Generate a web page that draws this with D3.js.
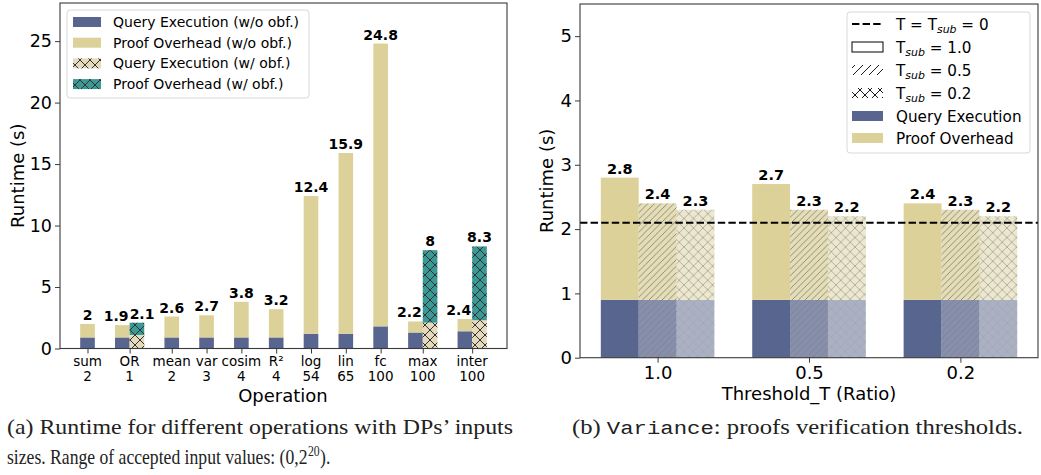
<!DOCTYPE html>
<html><head><meta charset="utf-8">
<script src="https://cdn.jsdelivr.net/npm/d3@7"></script>
<style>body{margin:0;background:#fff}svg{display:block}</style>
</head><body>
<script>
// ---------- DATA (left panel) ----------
const ops = ["sum","OR","mean","var","cosim","R²","log","lin","fc","max","inter"];
const opSizes = ["2","1","2","3","4","4","54","65","100","100","100"];
const qeNoObf = [0.9,0.9,0.9,0.9,0.9,0.9,1.2,1.2,1.8,1.3,1.4];
const totalNoObf = [2,1.9,2.6,2.7,3.8,3.2,12.4,15.9,24.8,2.2,2.4];
const qeObf = [null,1.1,null,null,null,null,null,null,null,2.1,2.3];
const totalObf = [null,2.1,null,null,null,null,null,null,null,8,8.3];
const yTicksL = [0,5,10,15,20,25];
const legendL = ["Query Execution (w/o obf.)","Proof Overhead (w/o obf.)","Query Execution (w/ obf.)","Proof Overhead (w/ obf.)"];

// ---------- DATA (right panel) ----------
const thresholds = ["1.0","0.5","0.2"];
const tsub = ["1.0","0.5","0.2"];
const qeR = [[0.9,0.9,0.9],[0.9,0.9,0.9],[0.9,0.9,0.9]];      // [threshold][tsub]
const totalR = [[2.8,2.4,2.3],[2.7,2.3,2.2],[2.4,2.3,2.2]];
const baseline = 2.1;
const yTicksR = [0,1,2,3,4,5];

const C = {navy:"#58658f", khaki:"#dcd198", beige:"#e6dabc", teal:"#3a9995", axis:"#3a3a3a"};
const FONT = "DejaVu Sans";

const svg = d3.select("body").append("svg").attr("width",1041).attr("height",475)
  .style("font-family",FONT);
svg.append("rect").attr("width",1041).attr("height",475).attr("fill","#fff");

const defs = svg.append("defs");
function crossPattern(id, bg, size, stroke, sw){
  const p = defs.append("pattern").attr("id",id).attr("patternUnits","userSpaceOnUse")
    .attr("width",size).attr("height",size);
  if(bg) p.append("rect").attr("width",size).attr("height",size).attr("fill",bg);
  p.append("path").attr("d",`M0,0L${size},${size}M0,${size}L${size},0`)
    .attr("stroke",stroke).attr("stroke-width",sw).attr("fill","none");
}
function diagPattern(id, bg, size, stroke, sw){
  const p = defs.append("pattern").attr("id",id).attr("patternUnits","userSpaceOnUse")
    .attr("width",size).attr("height",size);
  if(bg) p.append("rect").attr("width",size).attr("height",size).attr("fill",bg);
  p.append("path").attr("d",`M0,${size}L${size},0M${-size/2},${size/2}L${size/2},${-size/2}M${size/2},${size*1.5}L${size*1.5},${size/2}`)
    .attr("stroke",stroke).attr("stroke-width",sw).attr("fill","none");
}
crossPattern("xBeige", C.beige, 10, "#333", 1);
crossPattern("xTeal", C.teal, 10, "#333", 1);
diagPattern("diagR", null, 6.5, "#555", 0.9);
crossPattern("xxR", null, 9.5, "#555", 0.9);
diagPattern("diagLeg", "#fff", 8, "#000", 0.9);
crossPattern("xxLeg", "#fff", 10, "#000", 0.9);

// ================= LEFT PANEL =================
const L = {x0:60, x1:507, y0:3, y1:348.5};
const W = 0.42;
let cursor = 0;
const pos = ops.map((d,i)=>{
  const has = totalObf[i]!=null;
  const p = {a:cursor, b: has ? cursor+W : null, tick: has ? cursor+W/2 : cursor};
  cursor += 1 + (has ? W : 0);
  return p;
});
const xL = d3.scaleLinear().domain([-0.79, 12.05]).range([L.x0, L.x1]);
const yL = d3.scaleLinear().domain([0, 28.1]).range([L.y1, L.y0]);
const bwL = xL(W) - xL(0);
const gL = svg.append("g");

ops.forEach((op,i)=>{
  const p = pos[i];
  const xa = xL(p.a) - bwL/2;
  const paired = p.b!=null;
  gL.append("rect").attr("x",xa).attr("width",bwL).attr("y",yL(qeNoObf[i])).attr("height",yL(0)-yL(qeNoObf[i])).attr("fill",C.navy);
  gL.append("rect").attr("x",xa).attr("width",bwL).attr("y",yL(totalNoObf[i])).attr("height",yL(qeNoObf[i])-yL(totalNoObf[i])).attr("fill",C.khaki);
  gL.append("text")
    .attr("x", paired ? xa + bwL - 1 : xL(p.a))
    .attr("y",yL(totalNoObf[i])-4).attr("text-anchor", paired ? "end" : "middle")
    .attr("font-size",14).attr("font-weight","bold").text(String(totalNoObf[i]));
  if(paired){
    const xb = xL(p.b) - bwL/2;
    gL.append("rect").attr("x",xb).attr("width",bwL).attr("y",yL(qeObf[i])).attr("height",yL(0)-yL(qeObf[i])).attr("fill","url(#xBeige)");
    gL.append("rect").attr("x",xb).attr("width",bwL).attr("y",yL(totalObf[i])).attr("height",yL(qeObf[i])-yL(totalObf[i])).attr("fill","url(#xTeal)");
    const small = totalObf[i] < 5;
    gL.append("text").attr("x", small ? xb : xL(p.b)).attr("y",yL(totalObf[i])-4)
      .attr("text-anchor", small ? "start" : "middle")
      .attr("font-size",14).attr("font-weight","bold").text(String(totalObf[i]));
  }
});

// axes left
const axL = gL.append("g").attr("transform",`translate(${L.x0},0)`)
  .call(d3.axisLeft(yL).tickValues(yTicksL).tickFormat(d3.format("d")).tickSize(5).tickPadding(3));
axL.select(".domain").remove();
axL.selectAll("text").attr("font-size",17.5).attr("font-family",FONT).attr("fill","#000");
axL.selectAll("line").attr("stroke",C.axis);
const axLB = gL.append("g").attr("transform",`translate(0,${L.y1})`)
  .call(d3.axisBottom(xL).tickValues(pos.map(p=>p.tick)).tickFormat("").tickSize(5));
axLB.select(".domain").remove();
axLB.selectAll("line").attr("stroke",C.axis);
pos.forEach((p,i)=>{
  const t = gL.append("text").attr("text-anchor","middle").attr("font-size",13.5);
  t.append("tspan").attr("x",xL(p.tick)).attr("y",366).text(ops[i]);
  t.append("tspan").attr("x",xL(p.tick)).attr("y",380.5).text(opSizes[i]);
});
gL.append("rect").attr("x",L.x0).attr("y",L.y0).attr("width",L.x1-L.x0).attr("height",L.y1-L.y0)
  .attr("fill","none").attr("stroke",C.axis).attr("stroke-width",1.1);
gL.append("text").attr("x",283).attr("y",402).attr("text-anchor","middle").attr("font-size",18).text("Operation");
gL.append("text").attr("transform",`translate(24,${(L.y0+L.y1)/2}) rotate(-90)`).attr("text-anchor","middle")
  .attr("font-size",18).text("Runtime (s)");

// legend left
const lgL = gL.append("g");
lgL.append("rect").attr("x",67).attr("y",10).attr("width",242).attr("height",88).attr("rx",3)
  .attr("fill","#fff").attr("fill-opacity",0.85).attr("stroke","#d8d8d8");
const lgFills = [C.navy, C.khaki, "url(#xBeige)", "url(#xTeal)"];
legendL.forEach((lab,i)=>{
  const cy = 22 + i*20.7;
  lgL.append("rect").attr("x",73).attr("y",cy-5).attr("width",28).attr("height",10).attr("fill",lgFills[i]);
  lgL.append("text").attr("x",113).attr("y",cy+5).attr("font-size",14).text(lab);
});

// ================= RIGHT PANEL =================
const R = {x0:580, x1:1038, y0:4, y1:357.7};
const xR = d3.scaleLinear().domain([-0.5125, 2.5125]).range([R.x0, R.x1]);
const yR = d3.scaleLinear().domain([0, 5.5]).range([R.y1, R.y0]);
const BW = 0.25;
const bwR = xR(BW) - xR(0);
const gR = svg.append("g");
const alphas = [1, 0.72, 0.5];
const hatch = [null, "url(#diagR)", "url(#xxR)"];
thresholds.forEach((th,g)=>{
  tsub.forEach((ts,k)=>{
    const cx = xR(g + (k-1)*BW);
    const x = cx - bwR/2;
    const grp = gR.append("g").attr("opacity",alphas[k]);
    grp.append("rect").attr("x",x).attr("width",bwR).attr("y",yR(qeR[g][k])).attr("height",yR(0)-yR(qeR[g][k])).attr("fill",C.navy);
    grp.append("rect").attr("x",x).attr("width",bwR).attr("y",yR(totalR[g][k])).attr("height",yR(qeR[g][k])-yR(totalR[g][k])).attr("fill",C.khaki);
    if(hatch[k]) grp.append("rect").attr("x",x).attr("width",bwR).attr("y",yR(totalR[g][k])).attr("height",yR(0)-yR(totalR[g][k])).attr("fill",hatch[k]);
    gR.append("text").attr("x",cx).attr("y",yR(totalR[g][k])-4).attr("text-anchor","middle")
      .attr("font-size",14.5).attr("font-weight","bold").text(String(totalR[g][k]));
  });
});
gR.append("line").attr("x1",R.x0).attr("x2",R.x1).attr("y1",yR(baseline)).attr("y2",yR(baseline))
  .attr("stroke","#000").attr("stroke-width",2).attr("stroke-dasharray","7.4,3.2");

const axR = gR.append("g").attr("transform",`translate(${R.x0},0)`)
  .call(d3.axisLeft(yR).tickValues(yTicksR).tickFormat(d3.format("d")).tickSize(5).tickPadding(3));
axR.select(".domain").remove();
axR.selectAll("text").attr("font-size",18).attr("font-family",FONT).attr("fill","#000");
axR.selectAll("line").attr("stroke",C.axis);
const axRB = gR.append("g").attr("transform",`translate(0,${R.y1})`)
  .call(d3.axisBottom(xR).tickValues([0,1,2]).tickFormat((d,i)=>thresholds[i]).tickSize(5).tickPadding(4));
axRB.select(".domain").remove();
axRB.selectAll("text").attr("font-size",18).attr("font-family",FONT).attr("fill","#000");
axRB.selectAll("line").attr("stroke",C.axis);
gR.append("rect").attr("x",R.x0).attr("y",R.y0).attr("width",R.x1-R.x0).attr("height",R.y1-R.y0)
  .attr("fill","none").attr("stroke",C.axis).attr("stroke-width",1.1);
gR.append("text").attr("x",809).attr("y",400).attr("text-anchor","middle").attr("font-size",18).text("Threshold_T (Ratio)");
gR.append("text").attr("transform",`translate(553,${(R.y0+R.y1)/2}) rotate(-90)`).attr("text-anchor","middle")
  .attr("font-size",18).text("Runtime (s)");

// legend right
const lgR = gR.append("g");
lgR.append("rect").attr("x",847).attr("y",12).attr("width",183).attr("height",141).attr("rx",3)
  .attr("fill","#fff").attr("fill-opacity",0.85).attr("stroke","#d8d8d8");
const rows = [24,47,70,93,116,138];
lgR.append("line").attr("x1",852).attr("x2",883).attr("y1",rows[0]).attr("y2",rows[0])
  .attr("stroke","#000").attr("stroke-width",2).attr("stroke-dasharray","7.4,3.2");
lgR.append("rect").attr("x",852).attr("y",rows[1]-5).attr("width",31).attr("height",10).attr("fill","#fff").attr("stroke","#000");
lgR.append("rect").attr("x",852).attr("y",rows[2]-5).attr("width",31).attr("height",10).attr("fill","url(#diagLeg)");
lgR.append("rect").attr("x",852).attr("y",rows[3]-5).attr("width",31).attr("height",10).attr("fill","url(#xxLeg)");
lgR.append("rect").attr("x",852).attr("y",rows[4]-5).attr("width",31).attr("height",10).attr("fill",C.navy);
lgR.append("rect").attr("x",852).attr("y",rows[5]-5).attr("width",31).attr("height",10).attr("fill",C.khaki);
const FS = 15.2;
function tsubText(y, pre, val){
  const t = lgR.append("text").attr("x",896).attr("y",y+5.5).attr("font-size",FS);
  t.append("tspan").text(pre + "T");
  t.append("tspan").attr("font-style","italic").attr("font-size",FS*0.72).attr("dy",3).text("sub");
  t.append("tspan").attr("dy",-3).text(val);
}
tsubText(rows[0], "T = ", " = 0");
tsub.forEach((ts,k)=> tsubText(rows[k+1], "", " = " + ts));
lgR.append("text").attr("x",896).attr("y",rows[4]+5.5).attr("font-size",FS).text("Query Execution");
lgR.append("text").attr("x",896).attr("y",rows[5]+5.5).attr("font-size",FS).text("Proof Overhead");

// ================= CAPTIONS =================
const CF = "Liberation Serif";
const cap = svg.append("g").attr("font-family",CF).attr("font-size",21).attr("fill","#222");
cap.append("text").attr("x",7).attr("y",434).attr("textLength",506).attr("lengthAdjust","spacingAndGlyphs")
  .text("(a) Runtime for different operations with DPs’ inputs");
const c2 = cap.append("g").attr("transform","translate(7,464) scale(0.84,1)").append("text").attr("x",0).attr("y",0);
c2.append("tspan").text("sizes. Range of accepted input values: (0,2");
c2.append("tspan").attr("font-size",14).attr("dy",-8).attr("dx",0.5).text("20");
c2.append("tspan").attr("dy",8).attr("dx",0.5).text(").");
const c3 = cap.append("text").attr("x",572).attr("y",434).attr("textLength",451).attr("lengthAdjust","spacingAndGlyphs");
c3.append("tspan").text("(b) ");
c3.append("tspan").attr("font-family","Liberation Mono").attr("font-size",19).text("Variance");
c3.append("tspan").text(": proofs verification thresholds.");
</script>
</body></html>
